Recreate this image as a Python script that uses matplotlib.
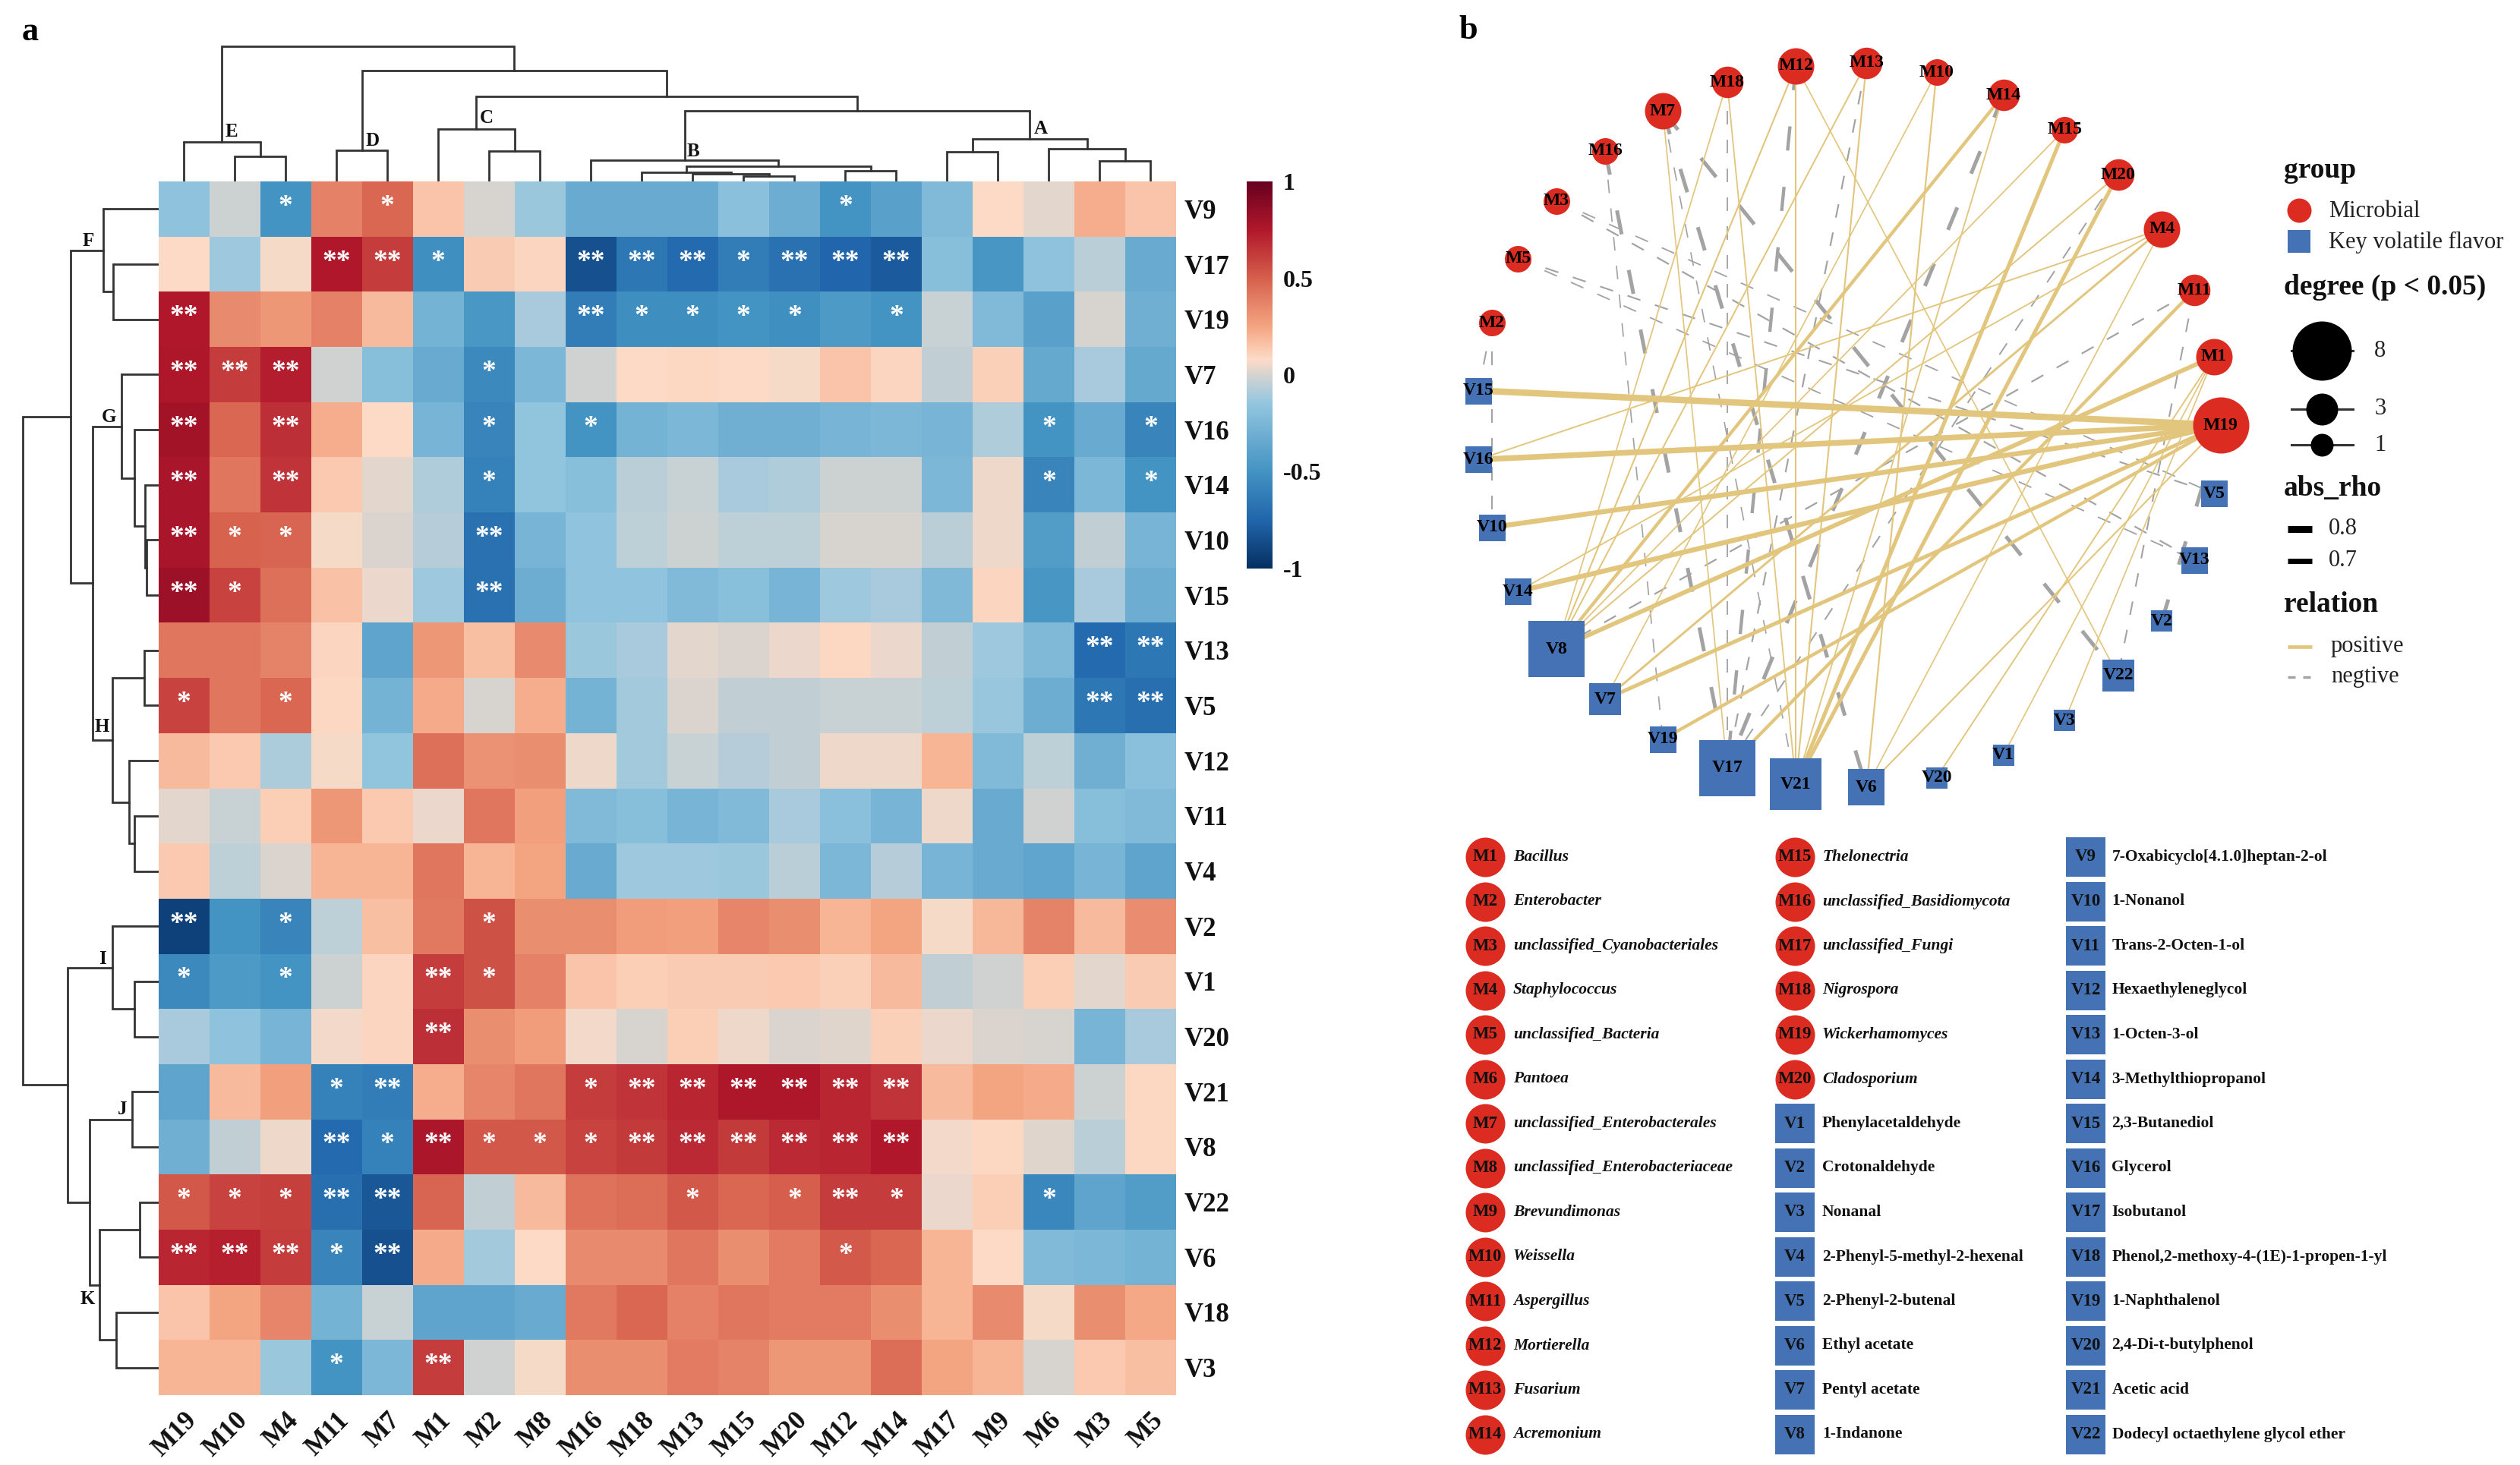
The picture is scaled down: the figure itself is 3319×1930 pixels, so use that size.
import numpy as np
import matplotlib
matplotlib.use("Agg")
import matplotlib.pyplot as plt
from matplotlib.colors import LinearSegmentedColormap, Normalize

plt.rcParams['font.family'] = ['Liberation Serif', 'DejaVu Serif']

W, H = 3319, 1930

# ---------- data ----------
col_labels = ['M19','M10','M4','M11','M7','M1','M2','M8','M16','M18','M13','M15','M20','M12','M14','M17','M9','M6','M3','M5']
row_labels = ['V9','V17','V19','V7','V16','V14','V10','V15','V13','V5','V12','V11','V4','V2','V1','V20','V21','V8','V22','V6','V18','V3']

rho = [
 [-.17,-.02,-.50, .38, .47, .15, .00,-.13,-.33,-.33,-.33,-.18,-.32,-.50,-.40,-.22, .08, .03, .22, .15],
 [ .08,-.12, .07, .75, .62,-.52, .13, .10,-.85,-.65,-.72,-.62,-.68,-.75,-.80,-.20,-.48,-.17,-.06,-.33],
 [ .75, .35, .30, .38, .18,-.28,-.47,-.10,-.62,-.53,-.53,-.50,-.52,-.45,-.50,-.03,-.22,-.40, .00,-.30],
 [ .76, .62, .73,-.01,-.20,-.33,-.55,-.25,-.01, .08, .09, .08, .07, .15, .10,-.04, .11,-.35,-.10,-.35],
 [ .80, .47, .67, .22, .08,-.27,-.58,-.15,-.50,-.28,-.25,-.30,-.30,-.27,-.25,-.27,-.08,-.50,-.33,-.58],
 [ .78, .42, .65, .14, .03,-.08,-.60,-.15,-.20,-.06,-.03,-.10,-.08,-.02,-.02,-.25, .05,-.58,-.25,-.50],
 [ .78, .49, .48, .07, .01,-.07,-.68,-.27,-.16,-.05,-.02,-.05,-.05, .00, .00,-.06, .05,-.43,-.04,-.27],
 [ .82, .60, .44, .16, .04,-.12,-.68,-.32,-.16,-.16,-.22,-.19,-.27,-.12,-.10,-.23, .10,-.48,-.10,-.32],
 [ .42, .42, .37, .10,-.38, .30, .17, .35,-.13,-.10, .03, .01, .04, .09, .04,-.04,-.12,-.23,-.72,-.65],
 [ .60, .42, .47, .09,-.28, .23, .00, .22,-.28,-.11, .01,-.04,-.04,-.03,-.03,-.05,-.14,-.32,-.65,-.70],
 [ .18, .14,-.09, .07,-.15, .44, .32, .33, .05,-.11,-.03,-.07,-.04, .05, .05, .20,-.22,-.05,-.30,-.18],
 [ .03,-.03, .12, .30, .14, .04, .42, .27,-.22,-.20,-.27,-.22,-.10,-.18,-.27, .05,-.33,-.01,-.20,-.22],
 [ .14,-.05, .01, .20, .20, .42, .20, .25,-.33,-.12,-.12,-.13,-.06,-.25,-.07,-.27,-.33,-.37,-.27,-.38],
 [-.92,-.50,-.58,-.05, .17, .41, .55, .33, .33, .28, .27, .36, .33, .20, .25, .07, .19, .37, .18, .34],
 [-.55,-.45,-.50,-.02, .10, .62, .55, .38, .15, .12, .13, .13, .14, .11, .18,-.04,-.01, .12, .03, .13],
 [-.10,-.17,-.27, .06, .10, .67, .33, .28, .06, .00, .12, .05, .01, .02, .11, .04, .01, .00,-.27,-.10],
 [-.38, .18, .27,-.60,-.62, .22, .36, .42, .62, .65, .70, .76, .76, .70, .65, .18, .25, .23,-.02, .09],
 [-.30,-.04, .05,-.72,-.60, .77, .53, .53, .60, .63, .68, .63, .68, .70, .75, .06, .09, .02,-.06, .09],
 [ .53, .60, .61,-.70,-.82, .48,-.04, .18, .43, .45, .53, .47, .50, .62, .62, .04, .12,-.57,-.38,-.43],
 [ .70, .72, .62,-.58,-.85, .23,-.11, .08, .35, .35, .42, .33, .40, .52, .47, .20, .08,-.22,-.25,-.28],
 [ .15, .25, .36,-.28,-.03,-.38,-.38,-.33, .41, .47, .38, .42, .40, .40, .33, .20, .35, .07, .33, .24],
 [ .20, .20,-.13,-.50,-.25, .62,-.01, .07, .33, .33, .40, .37, .30, .30, .45, .25, .20, .00, .14, .17],
]

signif = [
 [0,0,1,0,1,0,0,0,0,0,0,0,0,1,0,0,0,0,0,0],
 [0,0,0,2,2,1,0,0,2,2,2,1,2,2,2,0,0,0,0,0],
 [2,0,0,0,0,0,0,0,2,1,1,1,1,0,1,0,0,0,0,0],
 [2,2,2,0,0,0,1,0,0,0,0,0,0,0,0,0,0,0,0,0],
 [2,0,2,0,0,0,1,0,1,0,0,0,0,0,0,0,0,1,0,1],
 [2,0,2,0,0,0,1,0,0,0,0,0,0,0,0,0,0,1,0,1],
 [2,1,1,0,0,0,2,0,0,0,0,0,0,0,0,0,0,0,0,0],
 [2,1,0,0,0,0,2,0,0,0,0,0,0,0,0,0,0,0,0,0],
 [0,0,0,0,0,0,0,0,0,0,0,0,0,0,0,0,0,0,2,2],
 [1,0,1,0,0,0,0,0,0,0,0,0,0,0,0,0,0,0,2,2],
 [0,0,0,0,0,0,0,0,0,0,0,0,0,0,0,0,0,0,0,0],
 [0,0,0,0,0,0,0,0,0,0,0,0,0,0,0,0,0,0,0,0],
 [0,0,0,0,0,0,0,0,0,0,0,0,0,0,0,0,0,0,0,0],
 [2,0,1,0,0,0,1,0,0,0,0,0,0,0,0,0,0,0,0,0],
 [1,0,1,0,0,2,1,0,0,0,0,0,0,0,0,0,0,0,0,0],
 [0,0,0,0,0,2,0,0,0,0,0,0,0,0,0,0,0,0,0,0],
 [0,0,0,1,2,0,0,0,1,2,2,2,2,2,2,0,0,0,0,0],
 [0,0,0,2,1,2,1,1,1,2,2,2,2,2,2,0,0,0,0,0],
 [1,1,1,2,2,0,0,0,0,0,1,0,1,2,1,0,0,1,0,0],
 [2,2,2,1,2,0,0,0,0,0,0,0,0,1,0,0,0,0,0,0],
 [0,0,0,0,0,0,0,0,0,0,0,0,0,0,0,0,0,0,0,0],
 [0,0,0,1,0,2,0,0,0,0,0,0,0,0,0,0,0,0,0,0],
]

# dendrograms: (merge height, left child, right child); leaves are positions
col_tree = (178.5,
            (52, 0, (33.5, 1, 2)),
            (146,
             (41, 3, 4),
             (111.6,
              (69, 5, (40, 6, 7)),
              (93,
               (28.5, 8,
                (20, (12.5, 9, (10, 10, (7.5, 11, 12))), (14.4, 13, 14))),
               (56, (39, 15, 16), (43, 17, (27, 18, 19)))))))
row_tree = (178.5,
            (116,
             (72.5, 0, (60, 1, 2)),
             (87,
              (49, 3, (32, 4, (17.5, 5, (16, 6, 7)))),
              (60.5, (18.5, 8, 9), (39, 10, (32, 11, 12))))),
            (119.5,
             (60.5, 13, (31.5, 14, 15)),
             (90.5,
              (35, 16, 17),
              (77.8, (25, 18, 19), (55.5, 20, 21)))))

cluster_letters = ['A','B','C','D','E','F','G','H','I','J','K']

circle_order = ['M19','M1','M11','M4','M20','M15','M14','M10','M13','M12','M18','M7','M16','M3','M5','M2',
                'V15','V16','V10','V14','V8','V7','V19','V17','V21','V6','V20','V1','V3','V22','V2','V13','V5']

micro_names = ['Bacillus','Enterobacter','unclassified_Cyanobacteriales','Staphylococcus','unclassified_Bacteria',
               'Pantoea','unclassified_Enterobacterales','unclassified_Enterobacteriaceae','Brevundimonas','Weissella',
               'Aspergillus','Mortierella','Fusarium','Acremonium','Thelonectria','unclassified_Basidiomycota',
               'unclassified_Fungi','Nigrospora','Wickerhamomyces','Cladosporium']
flavor_names = ['Phenylacetaldehyde','Crotonaldehyde','Nonanal','2-Phenyl-5-methyl-2-hexenal','2-Phenyl-2-butenal',
                'Ethyl acetate','Pentyl acetate','1-Indanone','7-Oxabicyclo[4.1.0]heptan-2-ol','1-Nonanol',
                'Trans-2-Octen-1-ol','Hexaethyleneglycol','1-Octen-3-ol','3-Methylthiopropanol','2,3-Butanediol',
                'Glycerol','Isobutanol','Phenol,2-methoxy-4-(1E)-1-propen-1-yl','1-Naphthalenol','2,4-Di-t-butylphenol',
                'Acetic acid','Dodecyl octaethylene glycol ether']

# ---------- style ----------
RED, BLUE, GOLD, GREY = '#DC2C22', '#4472B4', '#E3C67E', '#A3A3A3'
cmap = LinearSegmentedColormap.from_list('rb', [
    (0.0, '#053061'), (0.125, '#2166AC'), (0.25, '#4393C3'), (0.425, '#92C5DE'), (0.46, '#B0CCDB'),
    (0.5, '#D5D3CF'), (0.54, '#FDDBC7'), (0.625, '#F4A582'), (0.75, '#D6604D'), (0.875, '#B2182B'), (1.0, '#67001F')])
norm = Normalize(-1, 1)

fig = plt.figure(figsize=(W/100, H/100), dpi=100)

def rect(x0, y0, x1, y1):
    return [x0/W, 1-y1/H, (x1-x0)/W, (y1-y0)/H]

HX0, HX1, HY0, HY1 = 208.5, 1549, 239, 1838
data = np.array(rho)
stars = np.array(signif)
nr, nc = data.shape

# ---------- heatmap ----------
ax = fig.add_axes(rect(HX0, HY0, HX1, HY1))
ax.pcolormesh(np.arange(nc+1), np.arange(nr+1), data, cmap=cmap, norm=norm, antialiased=False)
ax.set_xlim(0, nc); ax.set_ylim(nr, 0)
for s in ax.spines.values():
    s.set_visible(False)
ax.yaxis.tick_right()
ax.set_xticks(np.arange(nc)+.5)
ax.set_xticklabels(col_labels, rotation=45, ha='right', va='top', rotation_mode='anchor', fontsize=25, fontweight='bold', color='#111111')
ax.set_yticks(np.arange(nr)+.5)
ax.set_yticklabels(row_labels, fontsize=25, fontweight='bold', color='#111111')
ax.tick_params(length=0, pad=8)
ax.tick_params(axis='x', pad=12)
for r in range(nr):
    for c in range(nc):
        if stars[r, c]:
            ax.text(c+.5, r+.59, '*'*stars[r, c], color='white', fontsize=27, fontweight='bold',
                    ha='center', va='baseline')

# ---------- dendrograms ----------
def draw_tree(axd, node, vertical):
    if not isinstance(node, tuple):
        return node + .5, 0
    h, a, b = node
    pa, ha = draw_tree(axd, a, vertical)
    pb, hb = draw_tree(axd, b, vertical)
    px = [pa, pa, pb, pb]; py = [ha, h, h, hb]
    if vertical:
        axd.plot(px, py, color='#333333', lw=2.0, solid_joinstyle='miter', solid_capstyle='projecting')
    else:
        axd.plot(py, px, color='#333333', lw=2.0, solid_joinstyle='miter', solid_capstyle='projecting')
    return (pa+pb)/2, h

ax_top = fig.add_axes(rect(HX0, 30, HX1, HY0))
ax_top.set_xlim(0, nc); ax_top.set_ylim(0, HY0-30); ax_top.axis('off')
draw_tree(ax_top, col_tree, True)
ax_left = fig.add_axes(rect(10, HY0, HX0, HY1))
ax_left.set_xlim(HX0-10, 0); ax_left.set_ylim(nr, 0); ax_left.axis('off')
draw_tree(ax_left, row_tree, False)

# ---------- colorbar ----------
cax = fig.add_axes(rect(1642, 239, 1676, 749))
sm = plt.cm.ScalarMappable(norm=norm, cmap=cmap)
cb = fig.colorbar(sm, cax=cax, ticks=[-1, -.5, 0, .5, 1])
cb.outline.set_visible(False)
cb.ax.set_yticklabels(['-1', '-0.5', '0', '0.5', '1'], fontsize=23, fontweight='bold', color='#111111')
cb.ax.tick_params(length=0, pad=10)

# ---------- network ----------
NCX, NCY, NRX, NRY = 2435, 560, 490, 478
NX0, NX1, NY0, NY1 = 1880, 3000, 0, 1120
axn = fig.add_axes(rect(NX0, NY0, NX1, NY1))
axn.set_xlim((NX0-NCX)/NRX, (NX1-NCX)/NRX)
axn.set_ylim((NCY-NY1)/NRY, (NCY-NY0)/NRY)
axn.axis('off')
angles = np.arange(len(circle_order))*2*np.pi/len(circle_order)
pos = {n: (np.cos(t), np.sin(t)) for n, t in zip(circle_order, angles)}
degree = {n: 0 for n in circle_order}
edge_list = []
for r, v in enumerate(row_labels):
    for c, m in enumerate(col_labels):
        if stars[r, c] == 2:
            edge_list.append((m, v, data[r, c]))
            degree[m] += 1
            degree[v] += 1

def node_px(d):
    return 22 + 6.5*d

for m, v, val in sorted(edge_list, key=lambda e: e[2] > 0):
    x = [pos[m][0], pos[v][0]]; y = [pos[m][1], pos[v][1]]
    lw_px = float(np.interp(abs(val), [.6, .72, .78, .85], [1.6, 2.2, 6.5, 10]))
    if val > 0:
        axn.plot(x, y, color=GOLD, lw=lw_px*.72, zorder=2, solid_capstyle='butt')
    else:
        lw_px = min(lw_px, 5)
        on, off = (18, 20) if lw_px < 3 else (32, 48)
        lw_pt = lw_px*.72
        ls = (0, (on*.72/lw_pt, off*.72/lw_pt))
        axn.plot(x, y, color=GREY, lw=lw_pt, ls=ls, zorder=1, dash_capstyle='butt')

for n in circle_order:
    px, py = pos[n]
    d = node_px(degree[n])*.72
    axn.scatter([px], [py], s=d*d, marker='o' if n[0] == 'M' else 's',
                color=RED if n[0] == 'M' else BLUE, linewidths=0, zorder=3, clip_on=False)
    axn.text(px, py, n, ha='center', va='center', fontsize=17, fontweight='bold', color='black', zorder=4)

# ---------- overlay: panel letters, cluster letters, legends ----------
ov = fig.add_axes([0, 0, 1, 1], zorder=10)
ov.set_xlim(0, W); ov.set_ylim(H, 0); ov.axis('off'); ov.patch.set_alpha(0)
ov.text(40, 42, 'a', fontsize=32, fontweight='bold', ha='center', va='center')
ov.text(1934, 40, 'b', fontsize=32, fontweight='bold', ha='center', va='center')
letter_pos = [(1371,170),(913,199),(641,156),(491,186),(305,173),(116,318),(143,549),(134,958),(135,1263),(161,1461),(115,1712)]
for s, (x, y) in zip(cluster_letters, letter_pos):
    ov.text(x, y, s, fontsize=18, fontweight='bold', ha='center', va='center', color='#111111')

def dot(x, y, d, marker='o', color=RED, z=5):
    s = (d*.72)**2
    ov.scatter([x], [y], s=s, marker=marker, color=color, linewidths=0, zorder=z)

LX = 3008
for t, y in [('group', 224), ('degree (p < 0.05)', 378), ('abs_rho', 644), ('relation', 797)]:
    ov.text(LX, y, t, fontsize=27, fontweight='bold', ha='left', va='center', color='#111111')
dot(3028, 277, 32)
ov.text(3067, 279, 'Microbial', fontsize=22, va='center', color='#222222')
dot(3028, 318, 30, 's', BLUE)
ov.text(3067, 319, 'Key volatile flavor', fontsize=22, va='center', color='#222222')
for lab, y, d in [('8', 462, 78), ('3', 539, 42), ('1', 586, 30)]:
    ov.plot([3018, 3099], [y, y], color='#333333', lw=2.2, zorder=4)
    dot(3058, y, d, color='black')
    ov.text(3135, y, lab, fontsize=22, va='center', ha='center', color='#222222')
for lab, y, lw in [('0.8', 697, 9), ('0.7', 739, 7)]:
    ov.plot([3013, 3045], [y, y], color='black', lw=lw*.72, solid_capstyle='butt')
    ov.text(3067, y, lab, fontsize=22, va='center', color='#222222')
ov.plot([3013, 3045], [852, 852], color=GOLD, lw=3.4, solid_capstyle='butt')
ov.text(3070, 852, 'positive', fontsize=22, va='center', color='#222222')
ov.plot([3013, 3045], [892, 892], color=GREY, lw=2.4, ls=(0, (3, 3)))
ov.text(3070, 892, 'negtive', fontsize=22, va='center', color='#222222')

# bottom key
Y0, DY = 1129, 58.5
entries = [(f'M{i+1}', n, True) for i, n in enumerate(micro_names)] + \
          [(f'V{i+1}', n, False) for i, n in enumerate(flavor_names)]
cols = [(1956, 1993, entries[:14]), (2364, 2400, entries[14:28]), (2747, 2781.5, entries[28:])]
for xc, xt, group in cols:
    for i, (code, name, micro) in enumerate(group):
        y = Y0 + DY*i
        dot(xc, y, 52, 'o' if micro else 's', RED if micro else BLUE)
        ov.text(xc, y, code, fontsize=16.5, fontweight='bold', ha='center', va='center', zorder=6, color='#111111')
        ov.text(xt, y, name, fontsize=15.5, fontweight='bold', style='italic' if micro else 'normal',
                ha='left', va='center', color='#111111')

fig.savefig('out.png', dpi=100, facecolor='white')
